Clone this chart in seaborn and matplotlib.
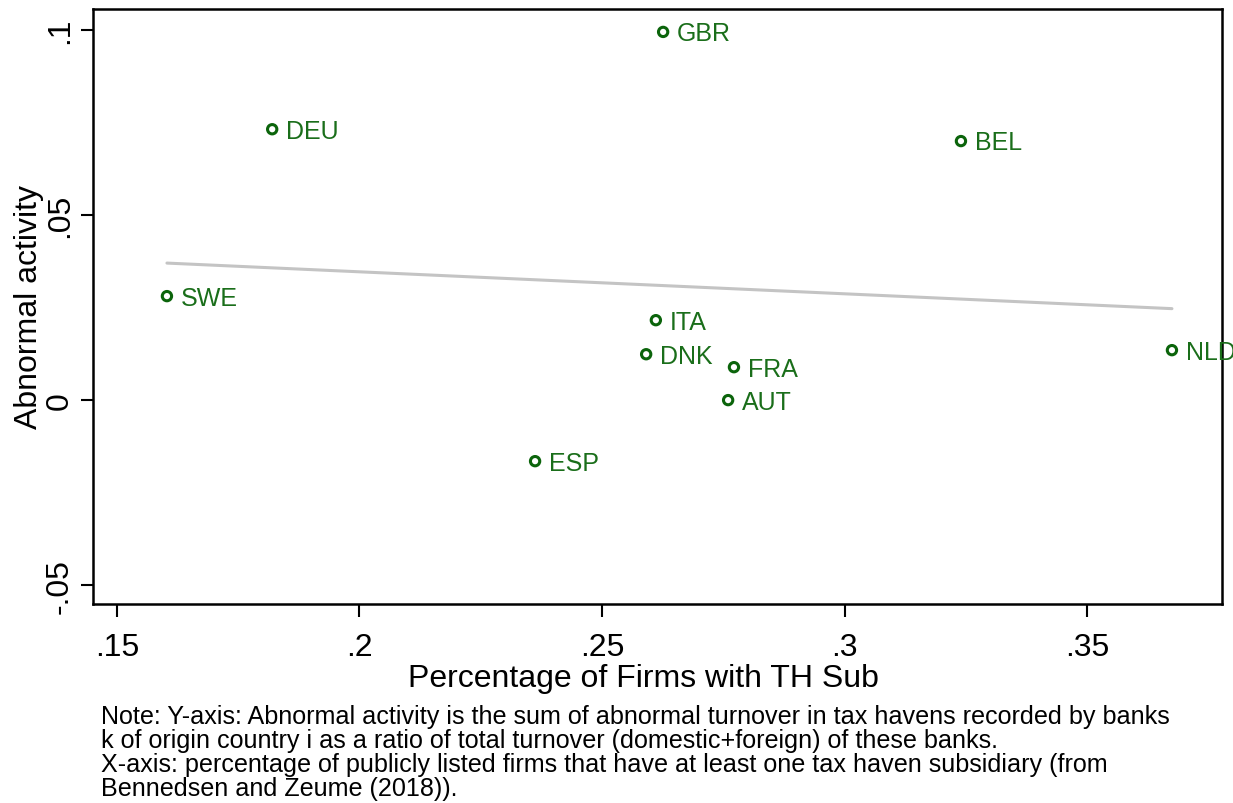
import numpy as np
import pandas as pd
import matplotlib
matplotlib.use("Agg")
import matplotlib.pyplot as plt
import seaborn as sns

countries = ['GBR', 'DEU', 'BEL', 'SWE', 'ITA', 'DNK', 'FRA', 'AUT', 'ESP', 'NLD']
th_share = [0.2626, 0.1820, 0.3240, 0.1603, 0.2611, 0.2591, 0.2772, 0.2760, 0.2362, 0.3675]
abnormal = [0.0995, 0.0732, 0.0700, 0.0281, 0.0216, 0.0124, 0.0089, 0.0000, -0.0165, 0.0135]

xticks = [0.15, 0.2, 0.25, 0.3, 0.35]
xtick_labels = ['.15', '.2', '.25', '.3', '.35']
yticks = [-0.05, 0, 0.05, 0.1]
ytick_labels = ['-.05', '0', '.05', '.1']

note = ("Note: Y-axis: Abnormal activity is the sum of abnormal turnover in tax havens recorded by banks\n"
        "k of origin country i as a ratio of total turnover (domestic+foreign) of these banks.\n"
        "X-axis: percentage of publicly listed firms that have at least one tax haven subsidiary (from\n"
        "Bennedsen and Zeume (2018)).")

df = pd.DataFrame({'country': countries, 'x': th_share, 'y': abnormal})

sns.set_style("white")
plt.rcParams['font.family'] = ['Liberation Sans', 'DejaVu Sans']
plt.rcParams['text.color'] = 'black'
plt.rcParams['axes.labelcolor'] = 'black'
plt.rcParams['xtick.color'] = 'black'
plt.rcParams['ytick.color'] = 'black'

green = '#1a6e1a'
fig = plt.figure(figsize=(12.33, 8.04), dpi=100)
ax = fig.add_axes([0.0754, 0.2475, 0.9156, 0.7401])

# linear fit line, drawn only over the data range
sns.regplot(data=df, x='x', y='y', ax=ax, scatter=False, ci=None,
            line_kws={'color': '#c4c4c4', 'lw': 2.2}, truncate=True)
sns.scatterplot(data=df, x='x', y='y', ax=ax, marker='o', s=45,
                facecolor='none', edgecolor='#0b640b', linewidth=2.2, zorder=3)

for _, r in df.iterrows():
    ax.annotate(r['country'], (r['x'], r['y']), xytext=(10, -1), textcoords='offset points',
                ha='left', va='center', color=green, fontsize=18, clip_on=False)

ax.set_xlim(0.14505, 0.3778)
ax.set_ylim(-0.0551, 0.1057)
ax.set_xticks(xticks)
ax.set_xticklabels(xtick_labels, fontsize=23)
ax.set_yticks(yticks)
ax.set_yticklabels(ytick_labels, fontsize=23, rotation=90, va='center')
ax.tick_params(axis='both', direction='out', length=9, width=1.5, color='black',
               bottom=True, left=True)
ax.tick_params(axis='x', pad=11)
ax.tick_params(axis='y', pad=4)
ax.set_xlabel('Percentage of Firms with TH Sub', fontsize=23, labelpad=1)
ax.xaxis.label.set_x(0.488)
ax.set_ylabel('Abnormal activity', fontsize=23, labelpad=1)
for s in ax.spines.values():
    s.set_color('black')
    s.set_linewidth(1.8)

fig.text(0.082, 0.004, note, fontsize=18.1, ha='left', va='bottom', linespacing=1.0)

fig.savefig('out.png', dpi=100)
